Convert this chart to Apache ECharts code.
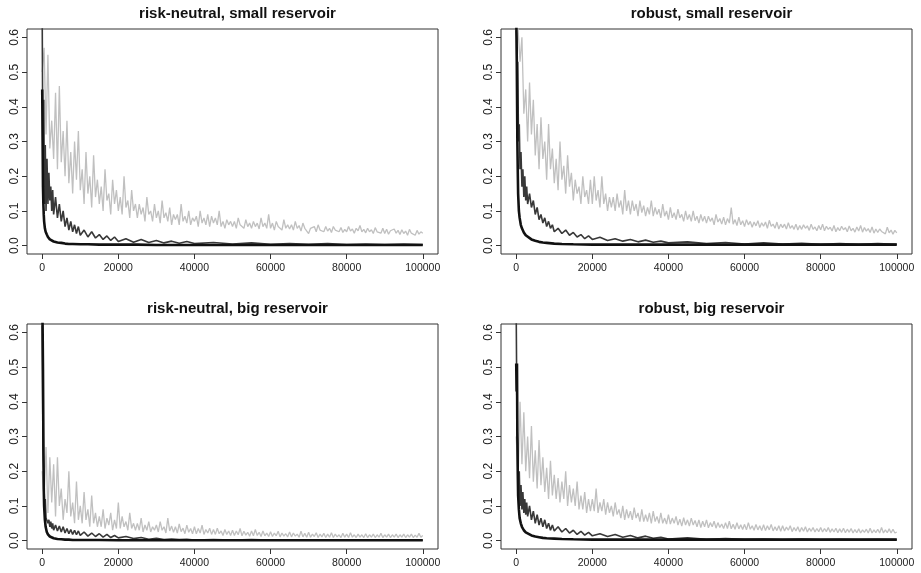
<!DOCTYPE html>
<html>
<head>
<meta charset="utf-8">
<script src="https://cdn.jsdelivr.net/npm/echarts@6/dist/echarts.min.js"></script>
<style>
html,body{margin:0;padding:0;background:#fff;}
#main{width:921px;height:573px;}
</style>
</head>
<body>
<div id="main"></div>
<script>
// ---------- titles ----------
const panelTitles = ["risk-neutral, small reservoir", "robust, small reservoir", "risk-neutral, big reservoir", "robust, big reservoir"];

// ---------- tick labels ----------
const xTicks = [0, 20000, 40000, 60000, 80000, 100000];
const yTicks = [0, 0.1, 0.2, 0.3, 0.4, 0.5, 0.6];

// ---------- iteration grids ----------
const GRAY_STEP = 500; // gray series sampled every 500 iterations, 0..100000
const GRAY_COUNT = 201;
const darkX = [0, 200, 400, 600, 800, 1000, 1250, 1500, 1750, 2000, 2250, 2500, 2750, 3000, 3500, 4000, 4500, 5000, 5500, 6000,
  6500, 7000, 7500, 8000, 8500, 9000, 9500, 10000, 11000, 12000, 13000, 14000, 15000, 16000, 17000, 18000, 19000, 20000, 22000, 24000,
  26000, 28000, 30000, 32000, 34000, 36000, 38000, 40000, 45000, 50000, 55000, 60000, 65000, 70000, 75000, 80000, 85000, 90000, 95000, 100000];
const blackX = [0, 100, 200, 300, 400, 500, 700, 900, 1200, 1500, 2000, 2500, 3000, 4000, 5000, 6000, 7000, 8000, 10000, 12000,
  15000, 20000, 25000, 30000, 40000, 50000, 60000, 70000, 80000, 90000, 100000];

// ---------- panel 1: risk-neutral, small reservoir ----------
const gray1 = [
  0.50, 0.57, 0.32, 0.55, 0.28, 0.36, 0.25, 0.44, 0.22, 0.46,
  0.24, 0.33, 0.20, 0.36, 0.18, 0.27, 0.15, 0.30, 0.19, 0.33,
  0.16, 0.22, 0.12, 0.27, 0.15, 0.20, 0.11, 0.26, 0.14, 0.19,
  0.12, 0.17, 0.10, 0.22, 0.13, 0.15, 0.09, 0.19, 0.12, 0.16,
  0.10, 0.14, 0.09, 0.20, 0.11, 0.13, 0.08, 0.16, 0.10, 0.12,
  0.08, 0.12, 0.09, 0.11, 0.07, 0.14, 0.09, 0.10, 0.07, 0.12,
  0.08, 0.10, 0.065, 0.13, 0.08, 0.095, 0.07, 0.11, 0.06, 0.09,
  0.075, 0.09, 0.06, 0.12, 0.07, 0.085, 0.065, 0.10, 0.06, 0.08,
  0.07, 0.085, 0.055, 0.10, 0.065, 0.08, 0.06, 0.09, 0.055, 0.085,
  0.065, 0.08, 0.06, 0.10, 0.055, 0.07, 0.05, 0.075, 0.06, 0.07,
  0.055, 0.07, 0.05, 0.08, 0.06, 0.065, 0.05, 0.075, 0.055, 0.065,
  0.05, 0.07, 0.055, 0.065, 0.048, 0.08, 0.055, 0.065, 0.05, 0.09,
  0.05, 0.065, 0.045, 0.07, 0.055, 0.06, 0.045, 0.075, 0.05, 0.06,
  0.048, 0.06, 0.045, 0.07, 0.05, 0.058, 0.042, 0.065, 0.05, 0.055,
  0.035, 0.05, 0.045, 0.055, 0.04, 0.06, 0.045, 0.05, 0.04, 0.055,
  0.042, 0.05, 0.038, 0.055, 0.045, 0.048, 0.04, 0.052, 0.038, 0.047,
  0.04, 0.055, 0.042, 0.048, 0.036, 0.05, 0.043, 0.058, 0.04, 0.047,
  0.037, 0.05, 0.04, 0.046, 0.035, 0.052, 0.04, 0.045, 0.036, 0.05,
  0.035, 0.047, 0.033, 0.043, 0.038, 0.048, 0.036, 0.044, 0.032, 0.046,
  0.035, 0.042, 0.03, 0.047, 0.036, 0.04, 0.03, 0.044, 0.033, 0.04,
  0.036];
const dark1 = [
  0.65, 0.17, 0.42, 0.12, 0.29, 0.10, 0.25, 0.12, 0.21, 0.13,
  0.17, 0.10, 0.16, 0.09, 0.14, 0.08, 0.12, 0.07, 0.10, 0.055,
  0.08, 0.045, 0.07, 0.04, 0.06, 0.035, 0.055, 0.03, 0.045, 0.025,
  0.04, 0.022, 0.032, 0.018, 0.028, 0.015, 0.025, 0.012, 0.02, 0.01,
  0.018, 0.009, 0.015, 0.008, 0.013, 0.007, 0.012, 0.006, 0.009, 0.005,
  0.008, 0.004, 0.006, 0.004, 0.006, 0.003, 0.005, 0.003, 0.005, 0.003];
const black1 = [0.45, 0.45, 0.17, 0.12, 0.09, 0.07, 0.05, 0.04, 0.032, 0.025, 0.018, 0.014, 0.012, 0.009, 0.008, 0.006,
  0.005, 0.005, 0.004, 0.004, 0.003, 0.003, 0.003, 0.002, 0.002, 0.002, 0.002, 0.002, 0.002, 0.002, 0.002];

// ---------- panel 2: robust, small reservoir ----------
const gray2 = [
  0.65, 0.62, 0.53, 0.60, 0.38, 0.45, 0.30, 0.47, 0.32, 0.42,
  0.26, 0.35, 0.22, 0.37, 0.25, 0.30, 0.19, 0.35, 0.22, 0.28,
  0.18, 0.25, 0.16, 0.30, 0.19, 0.23, 0.15, 0.26, 0.17, 0.21,
  0.13, 0.19, 0.15, 0.17, 0.12, 0.20, 0.14, 0.16, 0.12, 0.19,
  0.12, 0.20, 0.13, 0.16, 0.11, 0.20, 0.12, 0.15, 0.10, 0.14,
  0.11, 0.14, 0.10, 0.15, 0.11, 0.13, 0.09, 0.16, 0.10, 0.13,
  0.09, 0.13, 0.10, 0.12, 0.085, 0.13, 0.095, 0.115, 0.085, 0.11,
  0.09, 0.13, 0.085, 0.11, 0.09, 0.105, 0.08, 0.12, 0.085, 0.10,
  0.075, 0.11, 0.08, 0.095, 0.075, 0.105, 0.08, 0.09, 0.07, 0.10,
  0.075, 0.09, 0.07, 0.10, 0.072, 0.085, 0.065, 0.09, 0.07, 0.085,
  0.065, 0.085, 0.07, 0.08, 0.06, 0.09, 0.068, 0.078, 0.062, 0.082,
  0.06, 0.078, 0.065, 0.11, 0.062, 0.075, 0.058, 0.082, 0.06, 0.072,
  0.055, 0.075, 0.06, 0.07, 0.053, 0.068, 0.057, 0.072, 0.052, 0.066,
  0.056, 0.068, 0.05, 0.073, 0.056, 0.062, 0.05, 0.068, 0.048, 0.062,
  0.052, 0.062, 0.048, 0.066, 0.05, 0.058, 0.047, 0.062, 0.045, 0.058,
  0.047, 0.06, 0.05, 0.057, 0.044, 0.062, 0.047, 0.054, 0.043, 0.058,
  0.046, 0.062, 0.043, 0.056, 0.047, 0.053, 0.042, 0.058, 0.04, 0.052,
  0.043, 0.056, 0.046, 0.052, 0.04, 0.057, 0.043, 0.05, 0.039, 0.054,
  0.042, 0.058, 0.039, 0.052, 0.042, 0.049, 0.038, 0.054, 0.036, 0.048,
  0.038, 0.048, 0.041, 0.045, 0.034, 0.053, 0.037, 0.045, 0.033, 0.044,
  0.037];
const dark2 = [
  0.62, 0.5, 0.53, 0.3, 0.35, 0.22, 0.27, 0.17, 0.22, 0.14,
  0.2, 0.13, 0.17, 0.12, 0.15, 0.11, 0.13, 0.09, 0.11, 0.075,
  0.09, 0.065, 0.08, 0.055, 0.07, 0.05, 0.06, 0.04, 0.05, 0.035,
  0.045, 0.03, 0.038, 0.025, 0.032, 0.02, 0.028, 0.018, 0.024, 0.015,
  0.02, 0.013, 0.018, 0.011, 0.016, 0.01, 0.013, 0.008, 0.011, 0.006,
  0.009, 0.005, 0.008, 0.005, 0.007, 0.004, 0.006, 0.004, 0.006, 0.004];
const black2 = [0.65, 0.6, 0.45, 0.3, 0.22, 0.15, 0.1, 0.08, 0.06, 0.05, 0.038, 0.03, 0.025, 0.018, 0.014, 0.011,
  0.009, 0.008, 0.006, 0.005, 0.004, 0.003, 0.003, 0.003, 0.003, 0.003, 0.003, 0.003, 0.003, 0.003, 0.003];

// ---------- panel 3: risk-neutral, big reservoir ----------
const gray3 = [
  0.20, 0.12, 0.27, 0.08, 0.24, 0.11, 0.22, 0.07, 0.24, 0.10,
  0.15, 0.06, 0.12, 0.08, 0.20, 0.07, 0.11, 0.05, 0.17, 0.06,
  0.10, 0.05, 0.14, 0.06, 0.09, 0.04, 0.13, 0.05, 0.08, 0.04,
  0.07, 0.04, 0.09, 0.035, 0.065, 0.045, 0.08, 0.03, 0.06, 0.035,
  0.11, 0.035, 0.07, 0.04, 0.055, 0.03, 0.08, 0.035, 0.05, 0.03,
  0.05, 0.03, 0.065, 0.025, 0.045, 0.03, 0.055, 0.025, 0.04, 0.03,
  0.045, 0.025, 0.055, 0.03, 0.04, 0.022, 0.065, 0.028, 0.042, 0.024,
  0.04, 0.022, 0.048, 0.026, 0.036, 0.02, 0.045, 0.024, 0.035, 0.02,
  0.04, 0.02, 0.035, 0.022, 0.045, 0.018, 0.032, 0.022, 0.036, 0.018,
  0.032, 0.018, 0.036, 0.02, 0.028, 0.015, 0.032, 0.018, 0.028, 0.015,
  0.03, 0.015, 0.028, 0.017, 0.035, 0.014, 0.027, 0.016, 0.024, 0.013,
  0.028, 0.014, 0.032, 0.015, 0.024, 0.012, 0.028, 0.014, 0.022, 0.012,
  0.026, 0.012, 0.022, 0.014, 0.027, 0.011, 0.022, 0.013, 0.02, 0.011,
  0.025, 0.011, 0.022, 0.013, 0.019, 0.01, 0.027, 0.011, 0.021, 0.01,
  0.024, 0.01, 0.019, 0.012, 0.023, 0.009, 0.019, 0.011, 0.021, 0.009,
  0.019, 0.01, 0.023, 0.009, 0.019, 0.011, 0.017, 0.009, 0.021, 0.01,
  0.019, 0.009, 0.023, 0.01, 0.017, 0.009, 0.019, 0.01, 0.017, 0.009,
  0.02, 0.009, 0.017, 0.01, 0.019, 0.009, 0.017, 0.01, 0.021, 0.009,
  0.017, 0.01, 0.019, 0.009, 0.017, 0.01, 0.019, 0.009, 0.017, 0.01,
  0.019, 0.009, 0.017, 0.01, 0.019, 0.009, 0.016, 0.01, 0.021, 0.01,
  0.015];
const dark3 = [
  0.62, 0.27, 0.2, 0.1, 0.12, 0.065, 0.07, 0.05, 0.06, 0.04,
  0.055, 0.035, 0.05, 0.03, 0.045, 0.028, 0.042, 0.025, 0.04, 0.022,
  0.035, 0.02, 0.032, 0.018, 0.03, 0.017, 0.028, 0.015, 0.025, 0.013,
  0.022, 0.012, 0.02, 0.01, 0.018, 0.009, 0.015, 0.008, 0.012, 0.006,
  0.009, 0.004, 0.007, 0.003, 0.005, 0.003, 0.004, 0.002, 0.003, 0.002,
  0.003, 0.002, 0.002, 0.001, 0.002, 0.001, 0.002, 0.001, 0.002, 0.001];
const black3 = [0.65, 0.62, 0.49, 0.3, 0.15, 0.1, 0.06, 0.04, 0.025, 0.018, 0.012, 0.009, 0.007, 0.005, 0.004, 0.003,
  0.003, 0.002, 0.002, 0.002, 0.002, 0.001, 0.001, 0.001, 0.001, 0.001, 0.001, 0.001, 0.001, 0.001, 0.001];

// ---------- panel 4: robust, big reservoir ----------
const gray4 = [
  0.30, 0.18, 0.40, 0.22, 0.37, 0.20, 0.30, 0.18, 0.33, 0.17,
  0.26, 0.15, 0.29, 0.16, 0.24, 0.14, 0.21, 0.12, 0.23, 0.13,
  0.19, 0.12, 0.18, 0.11, 0.17, 0.12, 0.20, 0.10, 0.16, 0.11,
  0.15, 0.10, 0.17, 0.09, 0.13, 0.09, 0.14, 0.08, 0.12, 0.085,
  0.12, 0.085, 0.15, 0.08, 0.11, 0.085, 0.12, 0.075, 0.11, 0.08,
  0.10, 0.07, 0.11, 0.075, 0.09, 0.065, 0.10, 0.06, 0.09, 0.065,
  0.085, 0.06, 0.095, 0.065, 0.08, 0.055, 0.09, 0.055, 0.075, 0.055,
  0.08, 0.05, 0.085, 0.055, 0.07, 0.05, 0.08, 0.05, 0.065, 0.048,
  0.075, 0.048, 0.065, 0.05, 0.07, 0.045, 0.062, 0.042, 0.066, 0.045,
  0.06, 0.042, 0.065, 0.045, 0.058, 0.04, 0.06, 0.038, 0.056, 0.04,
  0.06, 0.037, 0.052, 0.04, 0.056, 0.036, 0.052, 0.038, 0.048, 0.035,
  0.052, 0.035, 0.056, 0.034, 0.047, 0.033, 0.052, 0.034, 0.046, 0.032,
  0.047, 0.031, 0.052, 0.033, 0.043, 0.03, 0.047, 0.031, 0.043, 0.029,
  0.046, 0.029, 0.043, 0.031, 0.047, 0.028, 0.04, 0.029, 0.043, 0.027,
  0.043, 0.028, 0.039, 0.03, 0.043, 0.026, 0.038, 0.028, 0.04, 0.025,
  0.038, 0.027, 0.04, 0.025, 0.036, 0.027, 0.038, 0.025, 0.035, 0.026,
  0.038, 0.025, 0.035, 0.026, 0.038, 0.024, 0.034, 0.025, 0.036, 0.023,
  0.034, 0.024, 0.036, 0.023, 0.033, 0.024, 0.035, 0.022, 0.032, 0.023,
  0.034, 0.022, 0.031, 0.024, 0.033, 0.022, 0.036, 0.022, 0.031, 0.023,
  0.033, 0.022, 0.038, 0.022, 0.031, 0.023, 0.034, 0.022, 0.033, 0.022,
  0.025];
const dark4 = [
  0.65, 0.33, 0.28, 0.15, 0.2, 0.1, 0.16, 0.09, 0.14, 0.08,
  0.12, 0.075, 0.11, 0.07, 0.1, 0.06, 0.085, 0.05, 0.075, 0.045,
  0.065, 0.04, 0.06, 0.035, 0.05, 0.03, 0.045, 0.028, 0.04, 0.025,
  0.035, 0.022, 0.03, 0.018, 0.027, 0.016, 0.024, 0.014, 0.02, 0.012,
  0.018, 0.01, 0.015, 0.008, 0.013, 0.007, 0.01, 0.005, 0.008, 0.004,
  0.006, 0.004, 0.005, 0.003, 0.005, 0.003, 0.004, 0.003, 0.004, 0.003];
const black4 = [0.51, 0.43, 0.51, 0.3, 0.2, 0.13, 0.09, 0.065, 0.05, 0.04, 0.03, 0.024, 0.02, 0.015, 0.012, 0.01,
  0.008, 0.007, 0.006, 0.005, 0.004, 0.003, 0.003, 0.003, 0.003, 0.003, 0.003, 0.003, 0.003, 0.003, 0.003];

const grayData = [gray1, gray2, gray3, gray4];
const darkData = [dark1, dark2, dark3, dark4];
const blackData = [black1, black2, black3, black4];

// ---------- build chart ----------
const grayX = [];
for (let i = 0; i < GRAY_COUNT; i++) grayX.push(i * GRAY_STEP);
const zip = (xs, ys) => ys.map((v, i) => [xs[i], v]);

const boxes = [
  {left: 27, top: 29}, {left: 501, top: 29},
  {left: 27, top: 324}, {left: 501, top: 324}
];
const BW = 411, BH = 225;
const FONT = "'Liberation Sans', Arial, sans-serif";

const option = {
  backgroundColor: '#ffffff',
  animation: false,
  title: panelTitles.map((t, i) => ({
    text: t,
    left: boxes[i].left + BW / 2,
    top: boxes[i].top - 28,
    textAlign: 'center',
    textStyle: {fontFamily: FONT, fontWeight: 'bold', fontSize: 15, color: '#111'}
  })),
  grid: boxes.map(b => ({
    left: b.left, top: b.top, width: BW, height: BH,
    show: true, borderColor: '#333', borderWidth: 1, backgroundColor: 'transparent'
  })),
  xAxis: boxes.map((b, i) => ({
    type: 'value', gridIndex: i, min: -4000, max: 104000,
    axisLine: {show: false, onZero: false},
    splitLine: {show: false},
    axisTick: {show: true, length: 5, lineStyle: {color: '#333'}, customValues: xTicks},
    axisLabel: {customValues: xTicks, fontFamily: FONT, fontSize: 10.5, color: '#222', margin: 9,
      formatter: v => String(Math.round(v))}
  })),
  yAxis: boxes.map((b, i) => ({
    type: 'value', gridIndex: i, min: -0.024, max: 0.624,
    axisLine: {show: false, onZero: false},
    splitLine: {show: false},
    axisTick: {show: true, length: 5, lineStyle: {color: '#333'}, customValues: yTicks},
    axisLabel: {customValues: yTicks, rotate: 90, fontFamily: FONT, fontSize: 12, color: '#222', margin: 6,
      formatter: v => v.toFixed(1)}
  })),
  series: []
};

for (let i = 0; i < 4; i++) {
  option.series.push({
    type: 'line', xAxisIndex: i, yAxisIndex: i, symbol: 'none', silent: true,
    data: zip(grayX, grayData[i]),
    lineStyle: {color: '#c0c0c0', width: 1.3}
  });
  option.series.push({
    type: 'line', xAxisIndex: i, yAxisIndex: i, symbol: 'none', silent: true,
    data: zip(darkX, darkData[i]),
    lineStyle: {color: '#383838', width: 1.6}
  });
  option.series.push({
    type: 'line', xAxisIndex: i, yAxisIndex: i, symbol: 'none', silent: true,
    data: zip(blackX, blackData[i]),
    lineStyle: {color: '#111111', width: 2.6}
  });
}

const chart = echarts.init(document.getElementById('main'), null, {renderer: 'canvas'});
chart.setOption(option);
</script>
</body>
</html>
